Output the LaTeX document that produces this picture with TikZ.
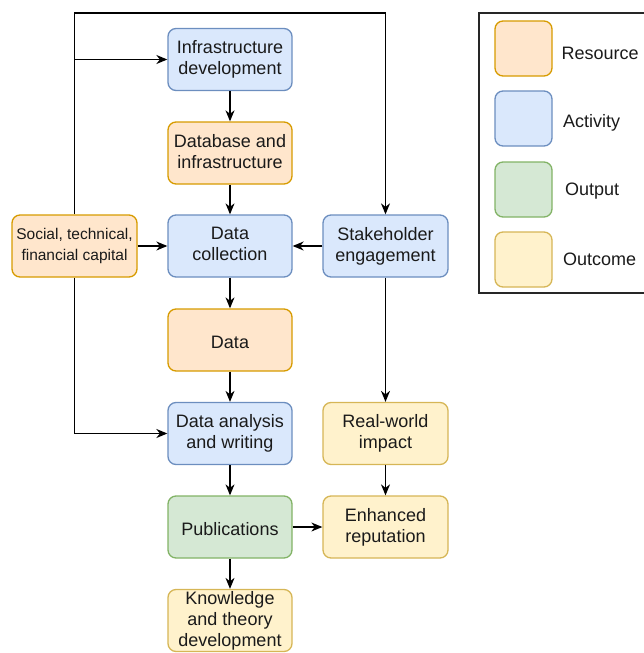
\documentclass[tikz,border=0pt]{standalone}
\usepackage{fontspec}
\setmainfont{Liberation Sans}
\usetikzlibrary{arrows.meta}
\definecolor{resfill}{HTML}{FFE6CC}\definecolor{resline}{HTML}{D79B00}
\definecolor{actfill}{HTML}{DAE8FC}\definecolor{actline}{HTML}{6C8EBF}
\definecolor{outfill}{HTML}{D5E8D4}\definecolor{outline}{HTML}{82B366}
\definecolor{ocmfill}{HTML}{FFF2CC}\definecolor{ocmline}{HTML}{D6B656}
\definecolor{txt}{HTML}{1A1A1A}
\begin{document}
\begin{tikzpicture}[x=1pt,y=-1pt,
    box/.style={draw,rounded corners=8pt,line width=1.3pt,minimum width=124pt,
      minimum height=62pt,inner sep=0pt,align=center,text=txt,
      font=\fontsize{18}{21}\selectfont,
      execute at begin node={\rule{0pt}{20pt}},
      execute at end node={\rule[-4pt]{0pt}{4pt}}},
    resource/.style={box,fill=resfill,draw=resline},
    activity/.style={box,fill=actfill,draw=actline},
    output/.style={box,fill=outfill,draw=outline},
    outcome/.style={box,fill=ocmfill,draw=ocmline},
    swatch/.style={draw,rounded corners=8pt,line width=1.3pt,minimum width=57pt,
      minimum height=55pt,inner sep=0pt},
    legtext/.style={anchor=west,inner sep=0pt,text=txt,font=\fontsize{18}{21}\selectfont},
    arr/.style={-{Stealth[length=11pt,width=9pt,inset=3.5pt]},line width=1.3pt}]
  \useasboundingbox (0,0) rectangle (644,653);
  % --- main column ---
  \node[activity] (infra) at (230,59.5) {Infrastructure\\development};
  \node[resource] (dbase) at (230,153) {Database and\\infrastructure};
  \node[activity] (collect) at (230,246) {Data\\collection};
  \node[resource] (data) at (230,340) {Data};
  \node[activity] (analysis) at (230,433.5) {Data analysis\\and writing};
  \node[output] (pubs) at (230,527) {Publications};
  \node[outcome] (knowl) at (230,620.5) {Knowledge\\and theory\\development};
  % --- side boxes ---
  \node[resource,minimum width=125pt,font=\fontsize{15.5}{21}\selectfont] (capital) at (74.5,246)
    {Social, technical,\\financial capital};
  \node[activity,minimum width=125pt] (stake) at (385.5,246) {Stakeholder\\engagement};
  \node[outcome,minimum width=125pt] (impact) at (385.5,433.5) {Real-world\\impact};
  \node[outcome,minimum width=125pt] (reput) at (385.5,527) {Enhanced\\reputation};
  % --- connectors ---
  \coordinate (topturn) at (74.5,13);
  \draw[arr] (capital.north) -- (topturn) -| (stake.north);
  \draw[arr] (capital.north |- infra.west) -- (infra.west);
  \draw[arr] (capital.south) |- (analysis.west);
  \draw[arr] (capital) -- (collect);
  \draw[arr] (stake) -- (collect);
  \draw[arr] (infra) -- (dbase);
  \draw[arr] (dbase) -- (collect);
  \draw[arr] (collect) -- (data);
  \draw[arr] (data) -- (analysis);
  \draw[arr] (analysis) -- (pubs);
  \draw[arr] (pubs) -- (knowl);
  \draw[arr] (pubs) -- (reput);
  \draw[arr] (stake) -- (impact);
  \draw[arr] (impact) -- (reput);
  % --- legend ---
  \draw[line width=1.3pt,black!85] (479,13) rectangle (646,293);
  \node[swatch,fill=resfill,draw=resline] (kres) at (523.5,48.5) {};
  \node[swatch,fill=actfill,draw=actline] (kact) at (523.5,118.5) {};
  \node[swatch,fill=outfill,draw=outline] (kout) at (523.5,189.5) {};
  \node[swatch,fill=ocmfill,draw=ocmline] (kocm) at (523.5,259.5) {};
  \node[legtext] (lres) at (561.5,53) {Resource};
  \node[legtext] (lact) at (563,123) {Activity};
  \node[legtext] (lout) at (565,191) {Output};
  \node[legtext] (locm) at (563,259) {Outcome};
\end{tikzpicture}
\end{document}
